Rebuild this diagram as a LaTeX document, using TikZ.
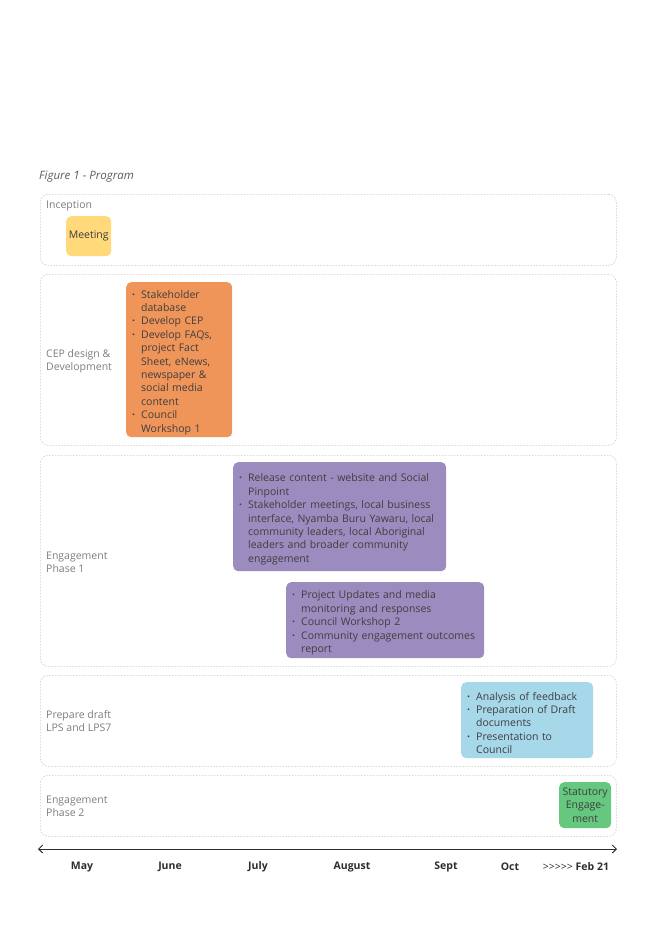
\documentclass[tikz,border=0pt]{standalone}
\usepackage{fontspec}
\setmainfont{Open Sans}
\usetikzlibrary{arrows.meta, positioning}
\definecolor{meetyellow}{RGB}{255, 217, 122}
\definecolor{cepsorange}{RGB}{240, 149, 90}
\definecolor{engpurple}{RGB}{156, 139, 190}
\definecolor{draftblue}{RGB}{166, 216, 234}
\definecolor{statgreen}{RGB}{102, 199, 127}
\definecolor{bandgray}{RGB}{200, 200, 200}
\definecolor{lblgray}{RGB}{125, 125, 125}
\definecolor{txtgray}{RGB}{62, 62, 62}
\definecolor{axisgray}{RGB}{45, 45, 45}
\newcommand{\boxfont}{\fontsize{10.5}{13.4}\selectfont}
\newcommand{\itm}[1]{\par\noindent\hangindent=9pt\hangafter=1\makebox[9pt][l]{\bfseries\textperiodcentered}#1\par}
\newcommand{\gtrun}{>\kern0pt>\kern0pt>\kern0pt>\kern0pt>}
\tikzset{
  band/.style={draw=bandgray, dash pattern=on 1.5pt off 1.5pt, rounded corners=8pt, line width=0.6pt, anchor=north west, minimum width=576pt},
  task/.style={rounded corners=5pt, text=txtgray, font=\boxfont, align=left, inner xsep=6pt, inner ysep=0pt, anchor=north west},
  phase/.style={text=lblgray, font=\boxfont, align=left, anchor=west, inner sep=0pt},
  month/.style={font=\boxfont\bfseries, text=axisgray}
}

\begin{document}
\begin{tikzpicture}[x=1pt, y=-1pt]
  \useasboundingbox (0,0) rectangle (657,930);

  % Title
  \node[font=\fontsize{11.5}{13}\selectfont\itshape, text=txtgray!85, anchor=west, inner sep=0pt] (title) at (39,177) {Figure 1 - Program};

  % Bands
  \node[band, minimum height=71pt] (inception) at (40,194) {};
  \node[band, minimum height=171pt] (cep) at (40,274) {};
  \node[band, minimum height=211pt] (eng1) at (40,455) {};
  \node[band, minimum height=91pt] (draft) at (40,675) {};
  \node[band, minimum height=61pt] (eng2) at (40,775) {};

  % Band labels
  \node[phase] (inceptionlbl) at (46,206) {Inception};
  \node[phase] (ceplbl) at (46,361) {CEP design \&\\Development};
  \node[phase] (eng1lbl) at (46,562) {Engagement\\Phase 1};
  \node[phase] (draftlbl) at (46,721) {Prepare draft\\LPS and LPS7};
  \node[phase] (eng2lbl) at (46,806) {Engagement\\Phase 2};

  % Tasks
  \node[task, fill=meetyellow, align=center, inner xsep=0pt, minimum width=45pt, minimum height=40pt] (meeting) at (66,216) {Meeting};

  \node[task, fill=cepsorange, text width=94pt, minimum height=155pt] (cepwork) at (126,282) {%
    \itm{Stakeholder\newline database}
    \itm{Develop CEP}
    \itm{Develop FAQs,\newline project Fact\newline Sheet, eNews,\newline newspaper \&\newline social media\newline content}
    \itm{Council\newline Workshop 1}};

  \node[task, fill=engpurple, text width=201pt, minimum height=109pt] (release) at (233,462) {%
    \itm{Release content - website and Social\newline Pinpoint}
    \itm{Stakeholder meetings, local business\newline interface, Nyamba Buru Yawaru, local\newline community leaders, local Aboriginal\newline leaders and broader community\newline engagement}};

  \node[task, fill=engpurple, text width=186pt, minimum height=76pt] (updates) at (286,582) {%
    \itm{Project Updates and media\newline monitoring and responses}
    \itm{Council Workshop 2}
    \itm{Community engagement outcomes\newline report}};

  \node[task, fill=draftblue, text width=120pt, minimum height=76pt] (analysis) at (461,682) {%
    \itm{Analysis of feedback}
    \itm{Preparation of Draft\newline documents}
    \itm{Presentation to\newline Council}};

  \node[task, fill=statgreen, align=center, inner xsep=0pt, minimum width=52pt, minimum height=46pt] (statutory) at (559,782) {Statutory\\Engage-\\ment};

  % Time axis
  \coordinate (axL) at (38,849);
  \coordinate (axR) at (617,849);
  \draw[{Straight Barb[length=4pt, width=8pt]}-{Straight Barb[length=4pt, width=8pt]}, line width=0.9pt, axisgray] (axL) -- (axR);

  \node[month] (may) at (82,867) {May};
  \node[month] (june) at (170,867) {June};
  \node[month] (july) at (258,867) {July};
  \node[month] (aug) at (352,867) {August};
  \node[month] (sept) at (446,867) {Sept};
  \node[month] (oct) at (510,867) {Oct};
  \node[month] (feb) at (576,867) {{\mdseries\gtrun}\ Feb 21};
\end{tikzpicture}
\end{document}
